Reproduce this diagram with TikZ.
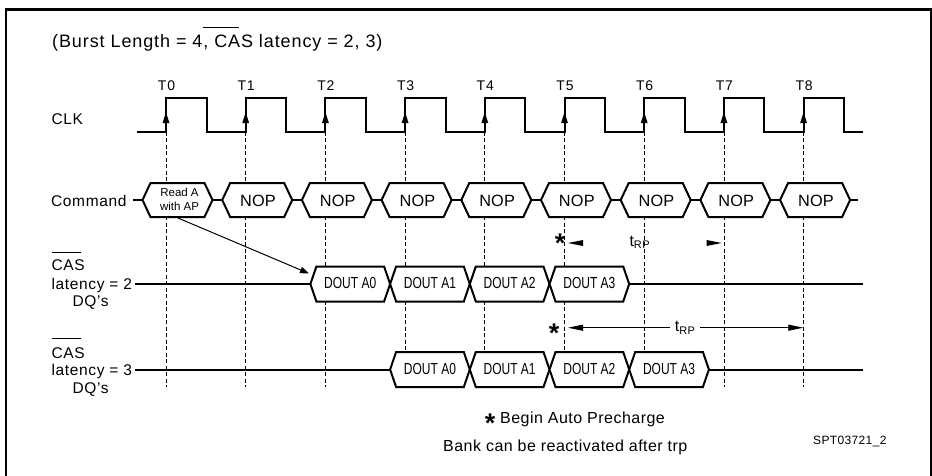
\documentclass[tikz,border=0pt]{standalone}
\usepackage{fontspec}
\setmainfont{Liberation Sans}
\usepackage{graphicx}
\usetikzlibrary{arrows.meta}
\newcommand\ff[2]{\fontsize{#1}{#1}\selectfont\addfontfeature{LetterSpace=#2}}
\begin{document}
\begin{tikzpicture}[x=1pt,y=-1pt,
  sig/.style={line width=2pt, line join=miter},
  cell/.style={line width=2pt, fill=white, line join=miter},
  grid/.style={line width=0.8pt, dash pattern=on 4pt off 2.5pt},
  txt/.style={inner sep=0pt, anchor=base west},
  ctxt/.style={inner sep=0pt, anchor=base},
  lab/.style={txt, font={\ff{15.5}{4}}},
  trp/.style={line width=0.8pt, {Triangle[length=15pt,width=6pt]}-{Triangle[length=15pt,width=6pt]}},
  star/.style={ctxt, font={\fontsize{27}{27}\selectfont\bfseries}},
]
\useasboundingbox (0,0) rectangle (932,475);
% frame
\draw[line width=2.3pt] (5.7,480) -- (5.7,9.5) -- (931,9.5) -- (931,480);
% title
\node[txt, font={\ff{18}{5}}] (title) at (52,47) {(Burst Length = 4, CAS latency = 2, 3)};
\draw[line width=1pt] (203,27.5) -- (239,27.5);
% clock
\foreach \k in {0,...,8} \coordinate (T\k) at ({166+79.7*\k},131.7);
\draw[sig] (137,131.7) \foreach \k in {0,...,8}{ -- ({166+79.7*\k},131.7) -- ({166+79.7*\k},97.7) -- ({206.5+79.7*\k},97.7) -- ({206.5+79.7*\k},131.7) } -- (863,131.7);
\foreach \k in {0,...,8}{
  \draw[grid] (T\k) -- ++(0,255.5);
  \fill (T\k) ++(0,-19.5) -- ++(-3.5,11) -- ++(7,0) -- cycle;
  \node[ctxt, font={\ff{14}{6}}] (lT\k) at ({166.5+79.7*\k},90) {T\k};
}
\node[lab] (clk) at (51.5,124) {CLK};
% command row
\node[lab] (cmd) at (51,206) {Command};
\draw[sig] (133,200) -- (858,200);
\foreach \k in {0,...,8}{
  \pgfmathsetmacro\xa{142.5+79.7*\k}
  \pgfmathsetmacro\xb{212.5+79.7*\k}
  \draw[cell] (\xa,200) -- (\xa+8,183) -- (\xb-8,183) -- (\xb,200) -- (\xb-8,217) -- (\xa+8,217) -- cycle;
}
\node[ctxt, font={\ff{11.5}{0}}] (rdA) at (179.5,196.7) {Read A};
\node[ctxt, font={\ff{11.5}{0}}] (rdB) at (179.5,210) {with AP};
\foreach \k in {1,...,8} \node[ctxt, font={\ff{16.3}{1}}] (nop\k) at ({178.3+79.7*\k},206.7) {NOP};
% CAS latency 2
\node[lab] (cas2) at (51.5,270.7) {CAS};
\draw[line width=1pt] (51.5,252.7) -- (81,252.7);
\node[lab] (lat2) at (51.5,289) {latency = 2};
\node[lab] (dq2) at (72.5,306) {DQ's};
\draw[sig] (135,284) -- (863,284);
\foreach \k/\t in {2/0,3/1,4/2,5/3}{
  \pgfmathsetmacro\xa{151+79.7*\k}
  \pgfmathsetmacro\xb{151+79.7*(\k+1)}
  \draw[cell] (\xa,284) -- (\xa+6,266.5) -- (\xb-6,266.5) -- (\xb,284) -- (\xb-6,301.5) -- (\xa+6,301.5) -- cycle;
  \node[ctxt, font={\ff{16}{0}}] (dqa\t) at ({(\xa+\xb)/2},288.5) {\scalebox{0.75}[1]{DOUT A\t}};
}
% CAS latency 3
\node[lab] (cas3) at (51.5,358) {CAS};
\draw[line width=1pt] (51.5,338) -- (81,338);
\node[lab] (lat3) at (51.5,375.5) {latency = 3};
\node[lab] (dq3) at (72.5,393) {DQ's};
\draw[sig] (135,369.5) -- (863,369.5);
\foreach \k/\t in {3/0,4/1,5/2,6/3}{
  \pgfmathsetmacro\xa{151+79.7*\k}
  \pgfmathsetmacro\xb{151+79.7*(\k+1)}
  \draw[cell] (\xa,369.5) -- (\xa+6,352) -- (\xb-6,352) -- (\xb,369.5) -- (\xb-6,387) -- (\xa+6,387) -- cycle;
  \node[ctxt, font={\ff{16}{0}}] (dqb\t) at ({(\xa+\xb)/2},374) {\scalebox{0.75}[1]{DOUT A\t}};
}
% read -> data arrow
\coordinate (rdS) at (178,218);
\coordinate (dA0) at (309,273.5);
\draw[line width=1pt, -{Triangle[length=9pt,width=6.5pt]}] (rdS) -- (dA0);
% tRP upper
\fill (568,243) -- (583,240) -- (583,246) -- cycle;
\fill (721.7,243) -- (706.7,240) -- (706.7,246) -- cycle;
\node[star] (s1) at (560,252) {*};
\node[txt] (trp1) at (629.3,246) {\fontsize{16}{16}\selectfont t\raisebox{-2.5pt}{\ff{11}{4}RP}};
% tRP lower
\coordinate (ra) at (568,327.7);
\coordinate (rb) at (803.3,327.7);
\draw[trp] (ra) -- (rb);
\node[fill=white, inner xsep=5pt, inner ysep=2pt] (trp2) at (685,327.7) {\fontsize{16}{16}\selectfont t\raisebox{-2.5pt}{\ff{11}{4}RP}};
\node[star] (s2) at (554,342) {*};
% notes
\node[star] (s3) at (490,432.5) {*};
\node[txt, font={\ff{16}{3}}] (note1) at (500,423) {Begin Auto Precharge};
\node[txt, font={\ff{16}{3}}] (note2) at (443,451) {Bank can be reactivated after trp};
\node[txt, font={\ff{12}{3}}] (code) at (813,444.5) {SPT03721\_2};
\end{tikzpicture}
\end{document}
